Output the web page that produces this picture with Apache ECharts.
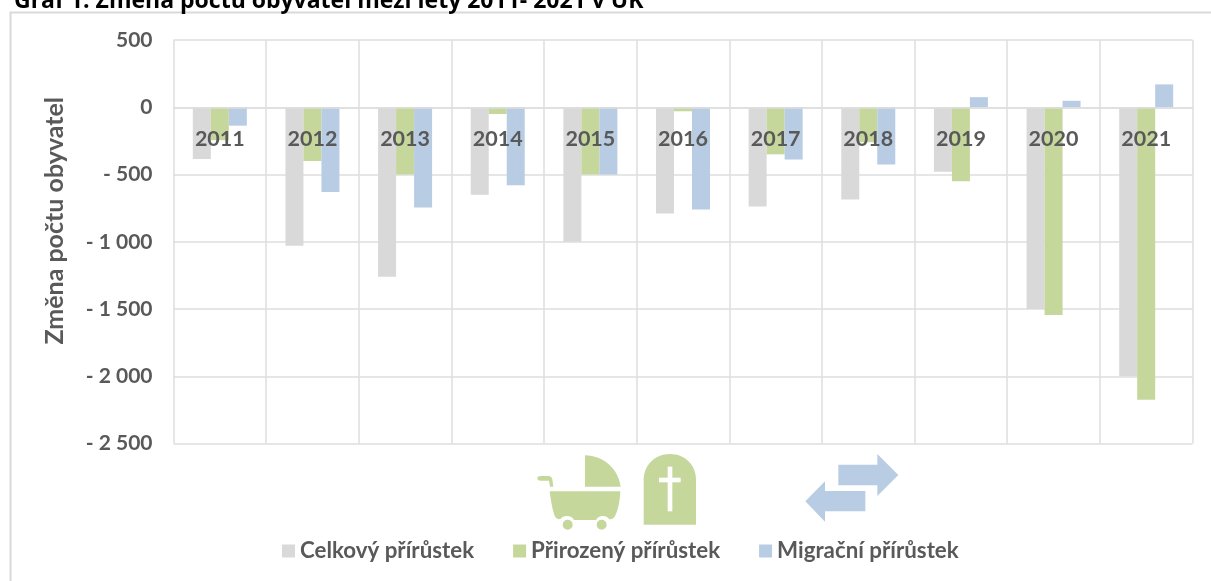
<!DOCTYPE html>
<html><head><meta charset="utf-8">
<style>html,body{margin:0;padding:0;background:#fff}#c{width:1211px;height:581px}</style>
<script src="https://cdn.jsdelivr.net/npm/echarts@6/dist/echarts.min.js"></script>
</head><body><div id="c"></div>
<script>
const years = ['2011','2012','2013','2014','2015','2016','2017','2018','2019','2020','2021'];
const celkovy = [-385,-1030,-1260,-650,-1000,-790,-738,-685,-480,-1500,-2000];
const prirozeny = [-245,-400,-500,-50,-500,-30,-350,-260,-550,-1545,-2175];
const migracni = [-137,-630,-745,-580,-500,-760,-388,-425,75,48,170];
const seriesNames = ['Celkový přírůstek','Přirozený přírůstek','Migrační přírůstek'];
const colors = ['#d9d9d9','#c5d79b','#b8cce4'];
const titleText = 'Graf 1: Změna počtu obyvatel mezi lety 2011- 2021 v ÚK';
const yTitle = 'Změna počtu obyvatel';
const font = 'Lato';
const fmt = v => { if (v===0) return '0'; const a=Math.abs(v); const s=a>=1000?Math.floor(a/1000)+' '+String(a%1000).padStart(3,'0'):String(a); return v<0?'- '+s:s; };
const stroller = 'M255 76 C310 78 355 115 362 170 L255 170 Z M112 145 C112 140 116 138 122 138 L145 138 C152 138 156 142 157 148 L160 170 L150 170 L147 152 L122 152 C116 152 112 150 112 145 Z M149 184 L361 184 C360 210 355 240 345 258 C340 266 335 268 328 268 C320 254 295 254 288 270 L222 270 C215 254 190 254 180 268 C170 268 165 262 162 252 C155 230 152 205 149 184 Z M188 284 A15 15 0 1 1 218 284 A15 15 0 1 1 188 284 Z M290 284 A15 15 0 1 1 320 284 A15 15 0 1 1 290 284 Z';
const stone = 'M431 284 L431 150 C431 105 465 72 510 72 C555 72 588 105 588 150 L588 284 Z';
const arrows1 = 'M1015 104 L1132 104 L1132 72 L1195 135 L1132 198 L1132 166 L1015 166 Z';
const arrows2 = 'M1096 183 L975 183 L975 154 L916 214 L975 275 L975 244 L1096 244 Z';
[['strollerShape',stroller],['stoneShape',stone],['arrowA',arrows1],['arrowB',arrows2]].forEach(([n,d])=>echarts.graphic.registerShape(n,echarts.graphic.extendPath(d)));
const chart = echarts.init(document.getElementById('c'),null,{renderer:'canvas'});
const icon = (type,color)=>({type:type,style:{fill:color},silent:true});
const bar = (x,y,w,h)=>({type:'rect',shape:{x,y,width:w,height:h},style:{fill:'#fff'},silent:true});
chart.setOption({
  animation:false,
  backgroundColor:'#fff',
  title:{text:titleText,left:9,top:-15,textStyle:{fontFamily:'Open Sans',fontSize:23,fontWeight:'bold',color:'#000'}},
  grid:{left:173.5,right:18.5,top:40,bottom:137.5,containLabel:false},
  legend:{data:seriesNames,left:277,top:535,itemWidth:13,itemHeight:13,itemGap:39,icon:'rect',
    textStyle:{fontFamily:font,fontSize:22.3,fontWeight:'bold',color:'#595959'}},
  xAxis:{type:'category',data:years,boundaryGap:true,z:10,offset:-336,
    axisLine:{onZero:false,lineStyle:{color:'#dedede',width:1.5}},axisTick:{show:false},
    axisLabel:{fontFamily:font,fontSize:21.5,fontWeight:'bold',color:'#595959',margin:21,interval:0},
    splitLine:{show:true,interval:0,lineStyle:{color:'#dedede',width:1.5}}},
  yAxis:{type:'value',min:-2500,max:500,interval:500,
    name:yTitle,nameLocation:'middle',nameGap:106,nameRotate:90,
    nameTextStyle:{fontFamily:font,fontSize:25,fontWeight:'bold',color:'#595959',padding:[0,0,0,42]},
    axisLine:{show:false},axisTick:{show:false},
    axisLabel:{fontFamily:font,fontSize:21,fontWeight:'bold',color:'#595959',margin:21,formatter:fmt},
    splitLine:{show:true,lineStyle:{color:'#dedede',width:1.5}}},
  series:[celkovy,prirozeny,migracni].map((d,i)=>({name:seriesNames[i],type:'bar',data:d,barWidth:18,barGap:0,
    itemStyle:{color:colors[i]},z:1})),
  graphic:[
    {type:'rect',shape:{x:10.5,y:12.5,width:1205,height:580},style:{fill:'none',stroke:'#d9d9d9',lineWidth:2},silent:true,z:-1},
    {type:'group',x:500,y:430,scaleX:1/3,scaleY:1/3,children:[icon('strollerShape',colors[1]),icon('stoneShape',colors[1]),bar(503,110,14,134),bar(477,143,65,14),icon('arrowA',colors[2]),icon('arrowB',colors[2])]}
  ]
});
</script></body></html>
